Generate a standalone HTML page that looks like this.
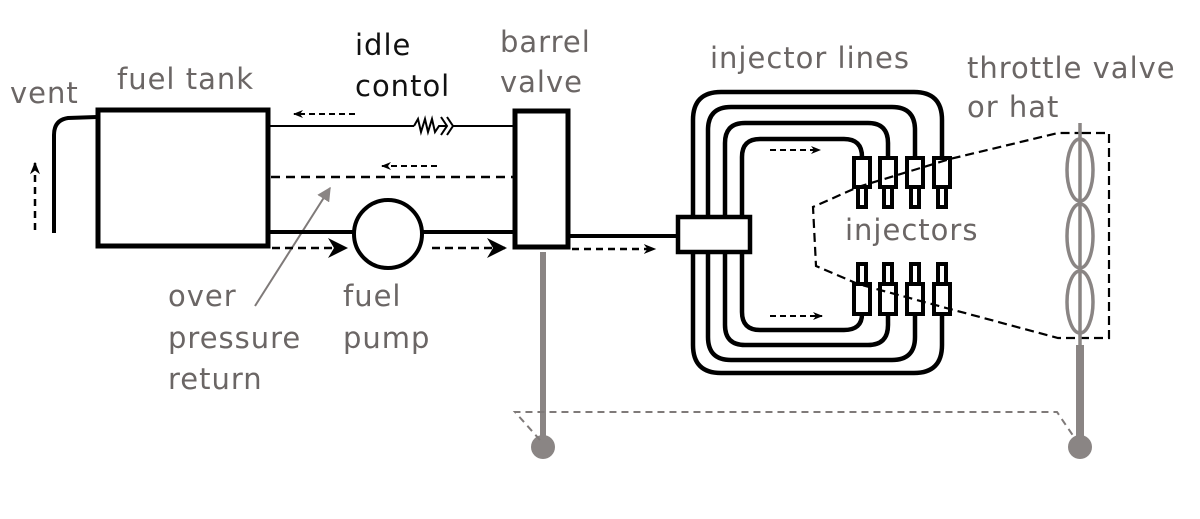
<!DOCTYPE html>
<html><head><style>
html,body{margin:0;padding:0;background:#fff;}
svg{display:block;}
text{font-family:"DejaVu Sans","Liberation Sans",sans-serif;font-size:29px;letter-spacing:1px;fill:#6b6665;}
</style></head><body>
<svg width="1200" height="519" viewBox="0 0 1200 519" xmlns="http://www.w3.org/2000/svg">
<defs>
<marker id="ah" viewBox="0 0 10 10" refX="9" refY="5" markerWidth="8" markerHeight="8" orient="auto-start-reverse"><path d="M0,0 L10,5 L0,10 L3,5 z" fill="#000"/></marker>
<marker id="ahb" viewBox="0 0 10 10" refX="9" refY="5" markerWidth="5" markerHeight="5" orient="auto-start-reverse"><path d="M0,1 L10,5 L0,9 L3,5 z" fill="#000"/></marker>
<marker id="ahg" viewBox="0 0 10 10" refX="9" refY="5" markerWidth="7" markerHeight="7" orient="auto"><path d="M0,0 L10,5 L0,10 z" fill="#8a8584"/></marker>
</defs>

<!-- labels -->
<text x="10" y="103">vent</text>
<text x="117" y="89">fuel tank</text>
<text x="355" y="55" style="fill:#111">idle</text>
<text x="355" y="96" style="fill:#111">contol</text>
<text x="500" y="52">barrel</text>
<text x="500" y="92">valve</text>
<text x="710" y="68">injector lines</text>
<text x="967" y="78">throttle valve</text>
<text x="967" y="117">or hat</text>
<text x="845" y="240">injectors</text>
<text x="168" y="306">over</text>
<text x="168" y="348">pressure</text>
<text x="168" y="389">return</text>
<text x="343" y="306">fuel</text>
<text x="343" y="348">pump</text>

<!-- vent -->
<path d="M97,117 L68,118 Q54,120 54,135 L54,233" fill="none" stroke="#000" stroke-width="4"/>
<line x1="35" y1="230" x2="35" y2="163" stroke="#000" stroke-width="2.5" stroke-dasharray="7,5" marker-end="url(#ahb)"/>

<!-- tank -->
<rect x="98" y="110" width="170" height="136" fill="#fff" stroke="#000" stroke-width="5"/>

<!-- idle line -->
<line x1="268" y1="126" x2="414" y2="126" stroke="#000" stroke-width="2"/>
<path d="M414,126 L418,119 L421,132 L425,119 L428,132 L432,119 L435,132 L439,126 L446,126" fill="none" stroke="#000" stroke-width="2"/>
<path d="M441,117 L447,126 L441,135 M447,117 L453,126 L447,135" fill="none" stroke="#000" stroke-width="2"/>
<line x1="453" y1="126" x2="514" y2="126" stroke="#000" stroke-width="2"/>
<line x1="355" y1="114" x2="294" y2="114" stroke="#000" stroke-width="2" stroke-dasharray="6,4" marker-end="url(#ahb)"/>

<!-- over pressure return -->
<line x1="271" y1="177" x2="514" y2="177" stroke="#000" stroke-width="2.5" stroke-dasharray="9,6"/>
<line x1="437" y1="166" x2="382" y2="166" stroke="#000" stroke-width="2" stroke-dasharray="6,4" marker-end="url(#ahb)"/>
<line x1="255" y1="306" x2="330" y2="188" stroke="#7f7a79" stroke-width="2" marker-end="url(#ahg)"/>

<!-- fuel line & pump -->
<line x1="268" y1="232" x2="514" y2="232" stroke="#000" stroke-width="4"/>
<circle cx="388" cy="234" r="34" fill="#fff" stroke="#000" stroke-width="4"/>
<line x1="272" y1="248" x2="346" y2="248" stroke="#000" stroke-width="2.5" stroke-dasharray="8,5" marker-end="url(#ah)"/>
<line x1="432" y1="248" x2="505" y2="248" stroke="#000" stroke-width="2.5" stroke-dasharray="8,5" marker-end="url(#ah)"/>

<!-- barrel valve -->
<rect x="515" y="111" width="53" height="136" fill="#fff" stroke="#000" stroke-width="5"/>
<line x1="568" y1="236" x2="678" y2="236" stroke="#000" stroke-width="4"/>
<line x1="572" y1="249" x2="655" y2="249" stroke="#000" stroke-width="2.5" stroke-dasharray="7,5" marker-end="url(#ahb)"/>
<rect x="540" y="252" width="6" height="190" fill="#8a8584"/>
<circle cx="543" cy="447" r="12" fill="#8a8584"/>
<path d="M540,440 L515,412 L1057,412 L1076,440" fill="none" stroke="#7f7a79" stroke-width="2" stroke-dasharray="7,5"/>

<!-- injector lines -->
<g fill="none" stroke="#000" stroke-width="4.5">
<path d="M942,158 L942,120 Q942,92 914,92 L721,92 Q693,92 693,120 L693,345 Q693,373 721,373 L914,373 Q942,373 942,345 L942,314"/>
<path d="M915,158 L915,130 Q915,107 892,107 L731,107 Q708,107 708,130 L708,337 Q708,360 731,360 L892,360 Q915,360 915,337 L915,314"/>
<path d="M888,158 L888,143 Q888,123 868,123 L745,123 Q725,123 725,143 L725,325 Q725,345 745,345 L868,345 Q888,345 888,325 L888,314"/>
<path d="M862,158 L862,157 Q862,139 844,139 L760,139 Q742,139 742,157 L742,312 Q742,330 760,330 L844,330 Q862,330 862,314"/>
</g>
<line x1="770" y1="150" x2="820" y2="150" stroke="#000" stroke-width="2" stroke-dasharray="6,4" marker-end="url(#ahb)"/>
<line x1="770" y1="316" x2="822" y2="316" stroke="#000" stroke-width="2" stroke-dasharray="6,4" marker-end="url(#ahb)"/>
<rect x="678" y="217" width="72" height="35" fill="#fff" stroke="#000" stroke-width="4.5"/>

<!-- injectors -->
<g fill="#fff" stroke="#000" stroke-width="4">
<rect x="854" y="158" width="16" height="29"/><rect x="858" y="187" width="8" height="20"/>
<rect x="880" y="158" width="16" height="29"/><rect x="884" y="187" width="8" height="20"/>
<rect x="907" y="158" width="16" height="29"/><rect x="911" y="187" width="8" height="20"/>
<rect x="934" y="158" width="16" height="29"/><rect x="938" y="187" width="8" height="20"/>
<rect x="858" y="264" width="8" height="20"/><rect x="854" y="284" width="16" height="30"/>
<rect x="884" y="264" width="8" height="20"/><rect x="880" y="284" width="16" height="30"/>
<rect x="911" y="264" width="8" height="20"/><rect x="907" y="284" width="16" height="30"/>
<rect x="938" y="264" width="8" height="20"/><rect x="934" y="284" width="16" height="30"/>
</g>

<!-- dashed outline -->
<path d="M1082,133 L1109,133 L1109,338 L1058,338 L950,309 L858,284 L816,266 L813,207 L858,187 L950,159 L1058,133 L1082,133" fill="none" stroke="#000" stroke-width="2.2" stroke-dasharray="9,5"/>

<!-- throttle -->
<g fill="none" stroke="#8a8584" stroke-width="3.5">
<line x1="1080" y1="123" x2="1080" y2="345"/>
<ellipse cx="1080" cy="170" rx="13" ry="31"/>
<ellipse cx="1080" cy="236" rx="13" ry="32"/>
<ellipse cx="1080" cy="302" rx="13" ry="31"/>
</g>
<rect x="1076" y="345" width="8" height="97" fill="#8a8584"/>
<circle cx="1080" cy="447" r="12" fill="#8a8584"/>
</svg>
</body></html>
